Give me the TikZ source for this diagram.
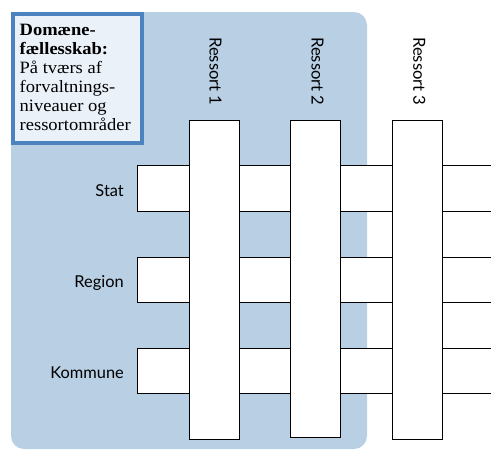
\documentclass[tikz,border=0pt]{standalone}
\usepackage{fontspec}
\setsansfont{Lato}
\setmainfont{Liberation Serif}[FakeStretch=1.07]
\definecolor{regionblue}{RGB}{184,207,228}
\definecolor{boxborder}{RGB}{76,130,190}
\definecolor{boxfill}{RGB}{235,241,249}
\tikzset{
  vbar/.style={draw=black,line width=0.9pt,fill=white,minimum width=50pt,inner sep=0pt},
  hbarfill/.style={fill=white},
  hbarline/.style={draw=black,line width=0.9pt},
  levellabel/.style={anchor=base east,font=\sffamily\fontsize{16.4}{18}\selectfont,inner sep=0pt},
  ressortlabel/.style={anchor=base west,rotate=-90,font=\sffamily\fontsize{16.6}{18}\selectfont,inner sep=0pt},
}
\begin{document}
\begin{tikzpicture}[x=1pt,y=-1pt]
\useasboundingbox (0,0) rectangle (491,450);
% blue domain region
\fill[regionblue,rounded corners=13pt] (11,12) rectangle (367,449);
% horizontal bars (open on the right)
\foreach \t/\b/\n in {165.7/211/stat,257.3/302.3/region,348.3/393.7/kommune}{
  \fill[hbarfill] (137,\t) rectangle (491,\b);
  \draw[hbarline] (491,\t) -- (137,\t) -- (137,\b) -- (491,\b);
}
% vertical bars
\node[vbar,minimum height=319pt] (r1) at (214,279.5) {};
\node[vbar,minimum height=317.5pt] (r2) at (315.5,278.75) {};
\node[vbar,minimum height=319pt] (r3) at (417.2,279.5) {};
% ressort labels
\node[ressortlabel] (l1) at (209.5,37) {Ressort 1};
\node[ressortlabel] (l2) at (311.7,37) {Ressort 2};
\node[ressortlabel] (l3) at (413.3,37) {Ressort 3};
% level labels
\node[levellabel] (stat) at (124,196) {Stat};
\node[levellabel] (region) at (124,287.3) {Region};
\node[levellabel] (kommune) at (124,378.8) {Kommune};
% info box
\draw[boxborder,fill=boxfill,line width=3.6pt] (13,14) rectangle (142,143);
\node[anchor=north west,align=left,inner sep=0pt,font=\fontsize{17.3}{19}\selectfont] (info) at (19.5,24)
  {\textbf{Domæne-}\\\textbf{fællesskab:}\\På tværs af\\forvaltnings-\\niveauer og\\ressortområder};
\end{tikzpicture}
\end{document}
